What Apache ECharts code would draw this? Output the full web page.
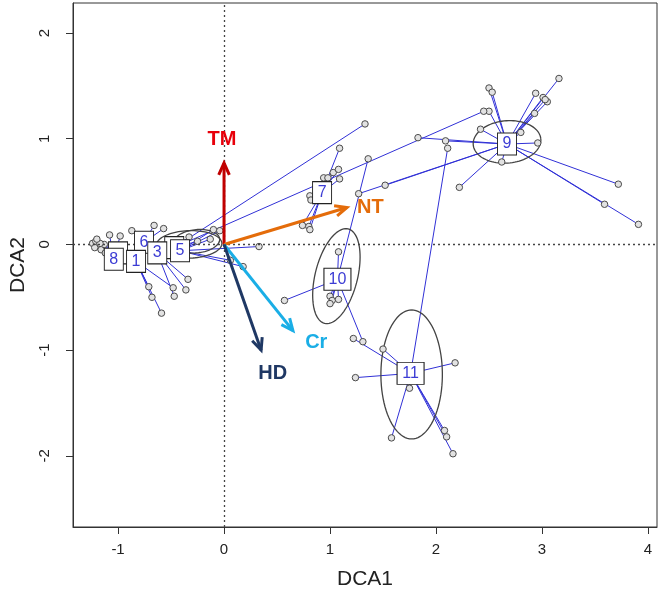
<!DOCTYPE html>
<html><head><meta charset="utf-8">
<script src="https://cdn.jsdelivr.net/npm/echarts@6/dist/echarts.min.js"></script>
<style>html,body{margin:0;padding:0;background:#fff}#c{width:660px;height:596px}</style>
</head><body><div id="c"></div>
<script>
const xTicks=[-1,0,1,2,3,4];
const yTicks=[-2,-1,0,1,2];
const groupNames=['2','4','6','8','1','3','5','7','10','9','11'];
const groupX=[-1.00,-0.47,-0.755,-1.04,-0.83,-0.63,-0.415,0.925,1.07,2.67,1.76];
const groupY=[-0.08,-0.03,0.02,-0.14,-0.16,-0.08,-0.06,0.49,-0.33,0.95,-1.22];
const hiddenGroups=['2','4'];

const siteGroup=[
'9','9','9','9','9','9','9','9','9','9','9','9','9','9','9','9','9','9','9','9','9',
'11','11','11','11','11','11','11','11','11','11',
'10','10','10','10','10','10','10','10',
'7','7','7','7','7','7','7','7','7','7','7',
'8','8','8','8','8','8','8',
'2','2','2','2',
'6','6','6',
'1','1','1','1',
'3','3','3',
'5','5','5','5','5','5',
'4','4','4','4'];
const siteX=[
2.50,2.53,2.94,3.01,3.05,3.16,2.93,2.50,2.42,2.80,2.96,2.09,1.83,2.62,2.22,3.72,3.59,3.91,1.52,1.27,3.03,
1.22,1.50,1.24,2.18,1.75,1.58,2.08,2.10,2.16,2.11,
1.08,1.00,1.02,1.08,1.00,0.57,1.31,1.36,
1.09,0.94,0.98,1.03,1.08,1.09,0.81,0.82,0.74,0.80,0.81,
-1.24,-1.21,-1.19,-1.16,-1.13,-1.08,-0.98,
-1.22,-1.17,-1.12,-1.20,
-0.87,-0.66,-0.57,
-0.71,-0.68,-0.59,-0.48,
-0.47,-0.36,-0.34,
-0.10,-0.04,-0.13,0.33,0.06,0.18,
1.33,2.45,-0.33,-0.25];
const siteY=[
1.48,1.44,1.43,1.39,1.35,1.57,1.24,1.26,1.09,1.06,0.96,0.98,1.01,0.78,0.54,0.57,0.38,0.19,0.56,0.48,1.37,
-0.89,-0.99,-1.26,-1.12,-1.36,-1.83,-1.76,-1.82,-1.98,0.91,
-0.07,-0.49,-0.53,-0.52,-0.56,-0.53,-0.92,0.81,
0.91,0.63,0.63,0.68,0.71,0.62,0.46,0.42,0.18,0.17,0.14,
0.01,0.03,-0.02,-0.05,0.0,0.09,0.08,
-0.03,0.01,-0.08,0.05,
0.13,0.18,0.15,
-0.40,-0.50,-0.65,-0.41,
-0.49,-0.43,-0.33,
0.14,0.13,0.05,-0.02,-0.15,-0.21,
1.14,1.26,0.07,0.03];

const ellX=[2.67,1.06,1.77,-0.33,-0.26];
const ellY=[0.97,-0.30,-1.23,0.00,0.03];
const ellA=[0.32,0.46,0.61,0.31,0.22];
const ellB=[0.20,0.20,0.29,0.13,0.11];
const ellAngle=[5,76,90,2,6];

const arrowNames=['TM','NT','Cr','HD'];
const arrowX=[0,1.16,0.65,0.35];
const arrowY=[0.77,0.35,-0.815,-1.0];
const arrowLabelX=[-0.02,1.38,0.87,0.46];
const arrowLabelY=[0.99,0.35,-0.93,-1.22];
const arrowColors=['#C00000','#E46C0A','#1AAEE6','#1F3864'];
const arrowLabelColors=['#E8000B','#E46C0A','#1AAEE6','#1F3864'];

const chart=echarts.init(document.getElementById('c'),null,{renderer:'canvas'});
const gIdx=n=>groupNames.indexOf(n);
const spider=siteX.map((x,i)=>{const g=gIdx(siteGroup[i]);return {coords:[[groupX[g],groupY[g]],[x,siteY[i]]]};});

chart.setOption({
  animation:false,
  grid:{left:73,right:3,top:3,bottom:69,show:true,borderColor:'#333',borderWidth:1,backgroundColor:'transparent'},
  xAxis:{type:'value',min:-1.425,max:4.085,
    axisLine:{show:true,onZero:false,lineStyle:{color:'#333'}},
    splitLine:{show:false},
    axisTick:{show:true,length:7,customValues:xTicks,lineStyle:{color:'#333'}},
    axisLabel:{customValues:xTicks,color:'#222',fontSize:15,fontFamily:'Liberation Sans',margin:15},
    name:'DCA1',nameLocation:'middle',nameGap:42,nameTextStyle:{fontSize:21,color:'#222',fontFamily:'Liberation Sans'}},
  yAxis:{type:'value',min:-2.673,max:2.284,
    axisLine:{show:true,onZero:false,lineStyle:{color:'#333'}},
    splitLine:{show:false},
    axisTick:{show:true,length:7,customValues:yTicks,lineStyle:{color:'#333'}},
    axisLabel:{customValues:yTicks,rotate:90,color:'#222',fontSize:15,fontFamily:'Liberation Sans',margin:21},
    name:'DCA2',nameLocation:'middle',nameGap:33,nameRotate:90,nameTextStyle:{fontSize:21,color:'#222',fontFamily:'Liberation Sans'}},
  series:[
    {type:'scatter',data:[],z:1,silent:true,
     markLine:{silent:true,symbol:'none',label:{show:false},lineStyle:{type:[2,3],color:'#444',width:1.3},
       data:[{xAxis:0},{yAxis:0}]}},
    {type:'lines',coordinateSystem:'cartesian2d',z:2,silent:true,
     lineStyle:{color:'#3030d6',width:1,opacity:1},data:spider},
    {type:'custom',z:3,silent:true,data:ellX.map((x,i)=>[x,ellY[i]]),
     renderItem:(p,api)=>{const i=p.dataIndex;const pts=[];const r=ellAngle[i]*Math.PI/180;
       for(let k=0;k<=90;k++){const t=k/90*2*Math.PI;const dx=ellA[i]*Math.cos(t),dy=ellB[i]*Math.sin(t);
         pts.push(api.coord([ellX[i]+dx*Math.cos(r)-dy*Math.sin(r),ellY[i]+dx*Math.sin(r)+dy*Math.cos(r)]));}
       return {type:'polyline',shape:{points:pts},style:{stroke:'#444',lineWidth:1.3,fill:null}};}},
    {type:'scatter',z:4,silent:true,symbol:'circle',symbolSize:6.5,
     itemStyle:{color:'#e2e2e2',borderColor:'#4a4a4a',borderWidth:1,opacity:1},
     data:siteX.map((x,i)=>[x,siteY[i]])},
    {type:'custom',z:5,silent:true,data:arrowX.map((x,i)=>[x,arrowY[i]]),
     renderItem:(p,api)=>{const i=p.dataIndex;const o=api.coord([0,0]);const t=api.coord([arrowX[i],arrowY[i]]);
       const a=Math.atan2(t[1]-o[1],t[0]-o[0]);const L=13,s=0.42;
       const p1=[t[0]-L*Math.cos(a-s),t[1]-L*Math.sin(a-s)];const p2=[t[0]-L*Math.cos(a+s),t[1]-L*Math.sin(a+s)];
       const lp=api.coord([arrowLabelX[i],arrowLabelY[i]]);
       return {type:'group',children:[
         {type:'line',shape:{x1:o[0],y1:o[1],x2:t[0],y2:t[1]},style:{stroke:arrowColors[i],lineWidth:3}},
         {type:'polyline',shape:{points:[p1,t,p2]},style:{stroke:arrowColors[i],lineWidth:3,fill:null,lineJoin:'miter'}},
         {type:'text',x:lp[0],y:lp[1],style:{text:arrowNames[i],fill:arrowLabelColors[i],font:'bold 20px "Liberation Sans"',align:'center',verticalAlign:'middle'}}
       ]};}},
    {type:'scatter',z:6,silent:true,symbol:'rect',
     data:groupX.map((x,i)=>({value:[x,groupY[i]],symbolSize:groupNames[i].length>1?[27,22]:[19,22],
        label:{show:hiddenGroups.indexOf(groupNames[i])<0}})),
     itemStyle:{color:'#fff',borderColor:'#222',borderWidth:1,opacity:1},
     label:{show:true,position:'inside',formatter:p=>groupNames[p.dataIndex],color:'#3c3cd4',fontSize:16,fontFamily:'Liberation Sans'}}
  ]
});
</script></body></html>
